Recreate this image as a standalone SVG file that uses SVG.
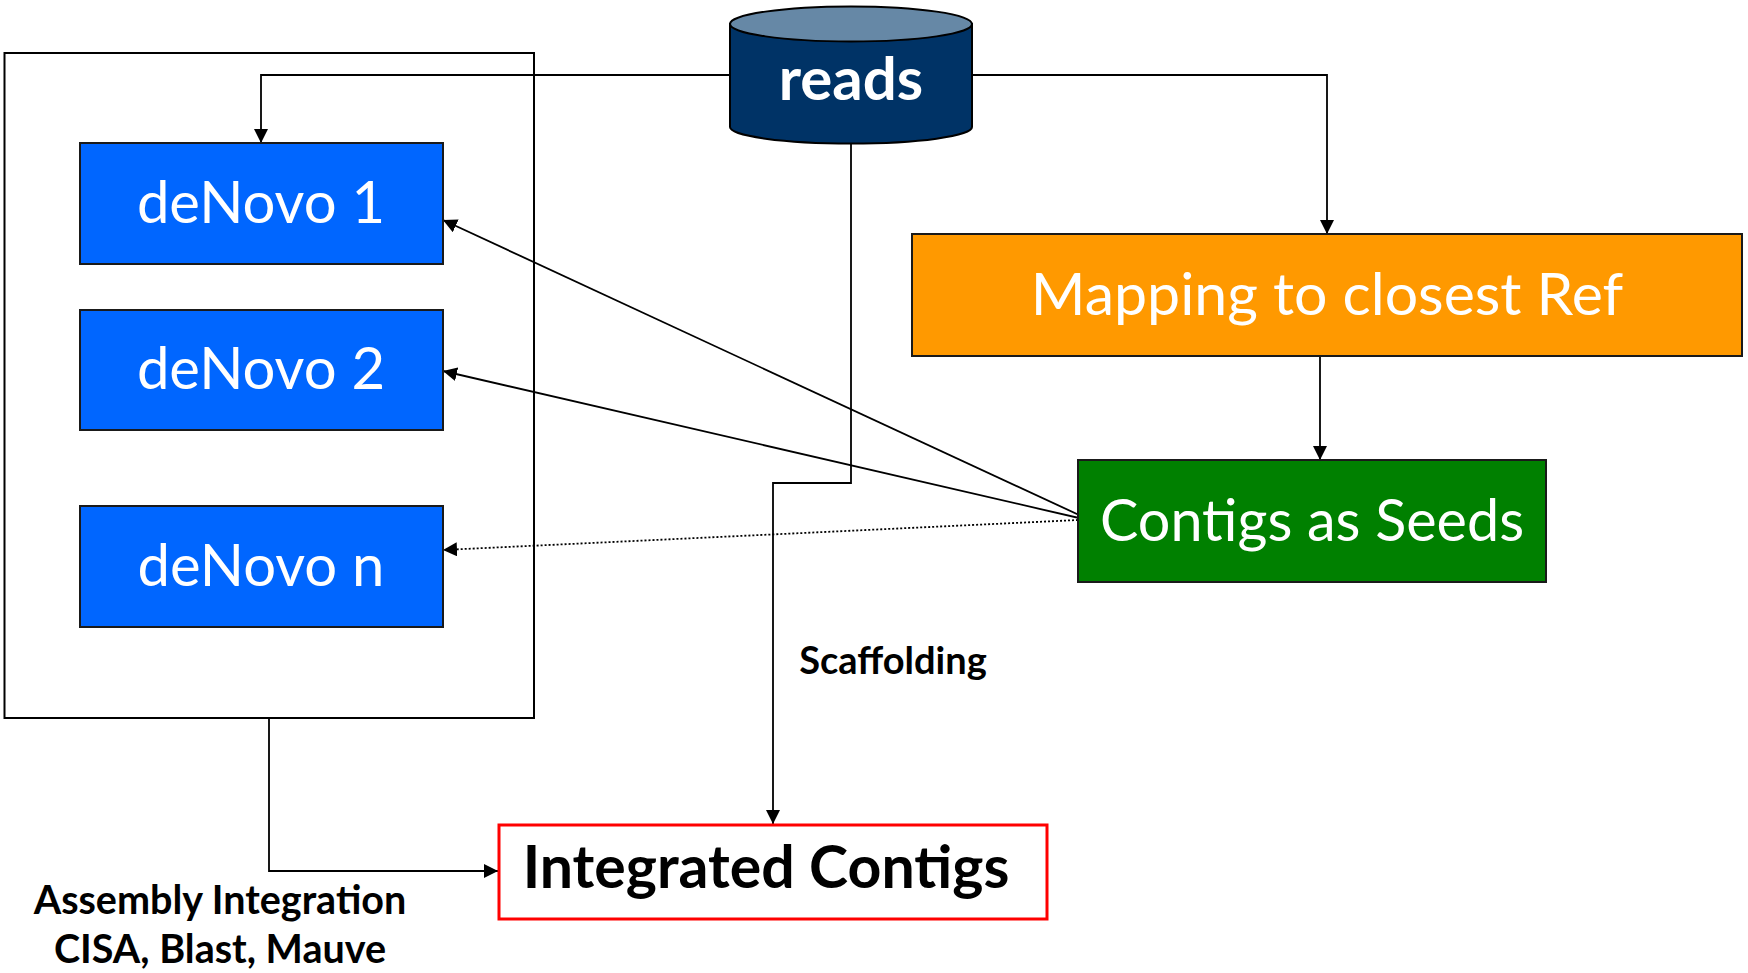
<svg xmlns="http://www.w3.org/2000/svg" width="1748" height="973" viewBox="0 0 1748 973">
<defs>
<marker id="arr" viewBox="0 0 10 10" refX="10" refY="5" markerWidth="14" markerHeight="14" markerUnits="userSpaceOnUse" orient="auto">
<path d="M0,0 L10,5 L0,10 z" fill="#000"/>
</marker>
</defs>
<style>
.box{stroke:#1a1a1a;stroke-width:2}
.blue{fill:#0066FF}
.wt{fill:#fff;font-family:Lato,"Liberation Sans",sans-serif;text-anchor:middle}
.bt{fill:#000;font-family:Lato,"Liberation Sans",sans-serif;font-weight:bold;text-anchor:middle}
.ln{fill:none;stroke:#000;stroke-width:1.8}
</style>
<rect width="1748" height="973" fill="#fff"/>
<g id="container">
<rect x="4.5" y="53" width="529.5" height="665" fill="none" stroke="#000" stroke-width="2"/>
</g>
<g id="connectors">
<polyline class="ln" points="730,75 261,75 261,143" marker-end="url(#arr)"/>
<polyline class="ln" points="972,75 1327,75 1327,234" marker-end="url(#arr)"/>
<polyline class="ln" points="1320,356 1320,460" marker-end="url(#arr)"/>
<polyline class="ln" points="851,143 851,483 773,483 773,824" marker-end="url(#arr)"/>
<polyline class="ln" points="269,718 269,871 498,871" marker-end="url(#arr)"/>
<line class="ln" x1="1092" y1="521" x2="443" y2="220" marker-end="url(#arr)"/>
<line class="ln" x1="1092" y1="521" x2="443" y2="371" marker-end="url(#arr)"/>
<line class="ln" x1="1078" y1="520" x2="443" y2="550" stroke-dasharray="2,2" marker-end="url(#arr)"/>
</g>
<g id="reads">
<path d="M730,24 L730,127 A121,16.5 0 0 0 972,127 L972,24 Z" fill="#003366" stroke="#000" stroke-width="2"/>
<ellipse cx="851" cy="24" rx="121" ry="17.5" fill="#6688A6" stroke="#000" stroke-width="2"/>
<text class="wt" x="851" y="100" font-size="60" font-weight="bold">reads</text>
</g>
<g id="denovo1">
<rect class="box blue" x="80" y="143" width="363" height="121"/>
<text class="wt" x="261" y="223" font-size="58">deNovo 1</text>
</g>
<g id="denovo2">
<rect class="box blue" x="80" y="310" width="363" height="120"/>
<text class="wt" x="261" y="389" font-size="58">deNovo 2</text>
</g>
<g id="denovon">
<rect class="box blue" x="80" y="506" width="363" height="121"/>
<text class="wt" x="261" y="586" font-size="58">deNovo n</text>
</g>
<g id="mapping">
<rect class="box" x="912" y="234" width="830" height="122" fill="#FF9900"/>
<text class="wt" x="1327" y="315" font-size="59">Mapping to closest Ref</text>
</g>
<g id="contigs">
<rect class="box" x="1078" y="460" width="468" height="122" fill="#008000"/>
<text class="wt" x="1312" y="541" font-size="57.5">Contigs as Seeds</text>
</g>
<g id="integrated">
<rect x="499" y="825" width="548" height="94" fill="#fff" stroke="#FF0000" stroke-width="3"/>
<text class="bt" x="766" y="888" font-size="59">Integrated Contigs</text>
</g>
<g id="labels">
<text class="bt" x="893" y="674" font-size="38">Scaffolding</text>
<text class="bt" x="220" y="914" font-size="39.5">Assembly Integration</text>
<text class="bt" x="220" y="963" font-size="39.5">CISA, Blast, Mauve</text>
</g>
</svg>
